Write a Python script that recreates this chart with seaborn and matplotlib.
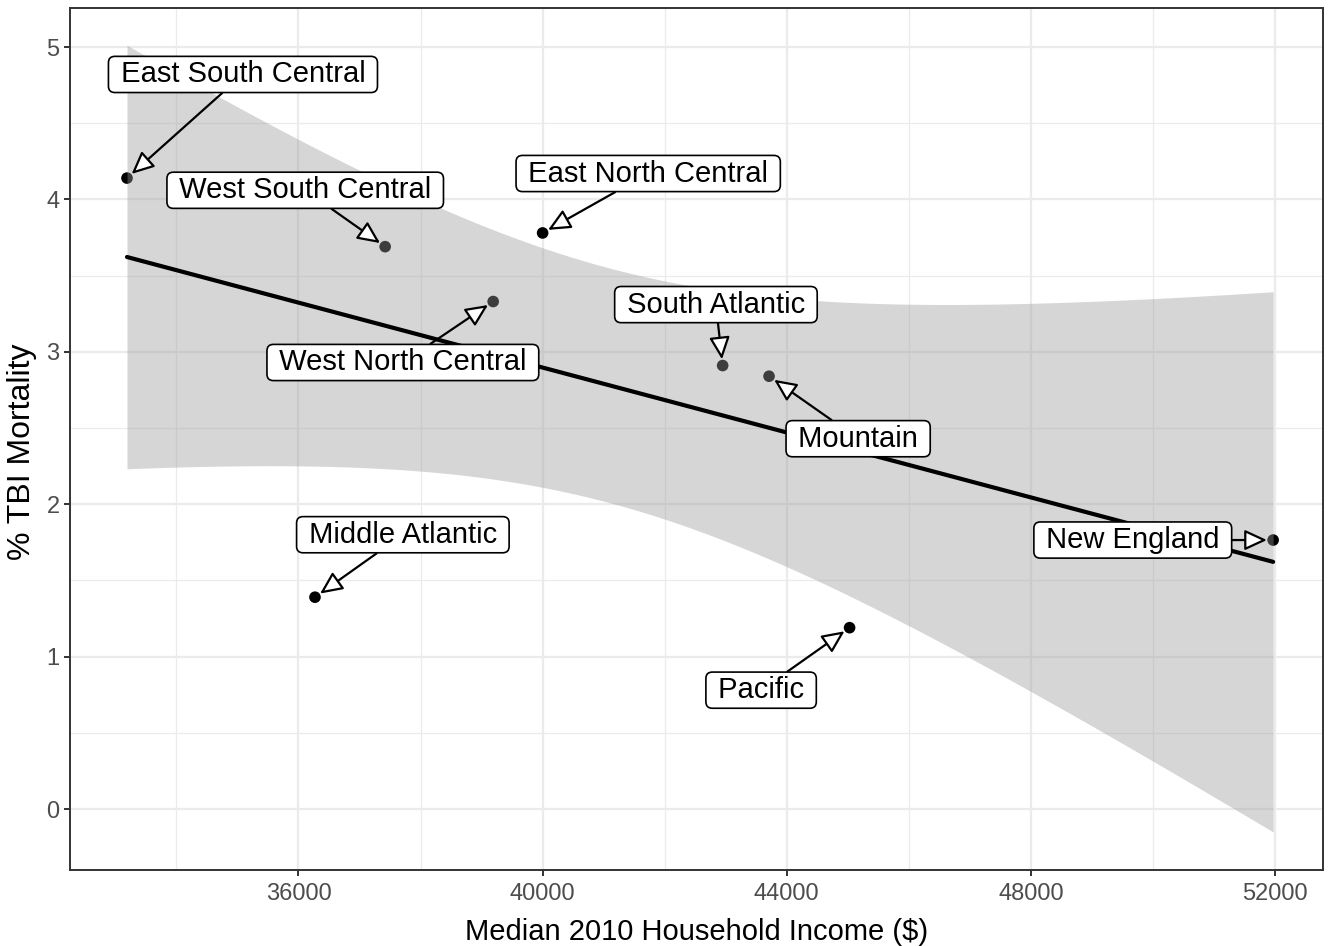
import numpy as np
import pandas as pd
import matplotlib
matplotlib.use("Agg")
import matplotlib.pyplot as plt
import seaborn as sns

regions = ["East South Central", "West South Central", "East North Central",
           "West North Central", "South Atlantic", "Mountain", "New England",
           "Middle Atlantic", "Pacific"]
income = [33190, 37420, 40000, 39190, 42950, 43710, 51970, 36270, 45030]
mortality = [4.14, 3.69, 3.78, 3.33, 2.91, 2.84, 1.765, 1.39, 1.19]
label_x = [35090, 36110, 41730, 37710, 42840, 45170, 49670, 37710, 43580]
label_y = [4.82, 4.06, 4.17, 2.93, 3.31, 2.43, 1.765, 1.80, 0.78]
x_ticks = [36000, 40000, 44000, 48000, 52000]
y_ticks = [0, 1, 2, 3, 4, 5]

df = pd.DataFrame({"region": regions, "income": income, "mortality": mortality})

sns.set_theme(style="white")
plt.rcParams["font.family"] = ["Liberation Sans", "DejaVu Sans"]

fig = plt.figure(figsize=(13.39, 9.46), dpi=100)
ax = fig.add_axes([70/1339, 1-870/946, (1323-70)/1339, (870-8)/946])

# points
sns.scatterplot(data=df, x="income", y="mortality", color="black", s=70,
                edgecolor="none", ax=ax, zorder=2)

# analytic 95% confidence band (like ggplot geom_smooth(method="lm"))
x = np.array(income, float); y = np.array(mortality, float)
n = len(x)
b1, b0 = np.polyfit(x, y, 1)
resid = y - (b0 + b1 * x)
s = np.sqrt(np.sum(resid**2) / (n - 2))
xg = np.linspace(x.min(), x.max(), 200)
se = s * np.sqrt(1/n + (xg - x.mean())**2 / np.sum((x - x.mean())**2))
tcrit = 2.364624  # t(0.975, df=7)
yfit = b0 + b1 * xg
ax.fill_between(xg, yfit - tcrit*se, yfit + tcrit*se, color="#999999",
                alpha=0.4, linewidth=0, zorder=3)

sns.regplot(data=df, x="income", y="mortality", ci=None, scatter=False,
            color="black", line_kws={"linewidth": 3.0, "zorder": 4}, ax=ax)

for name, px, py, lx, ly in zip(regions, income, mortality, label_x, label_y):
    ax.annotate(" " + name + " ", xy=(px, py), xytext=(lx, ly),
                ha="center", va="center",
                fontsize=21, color="black", zorder=6,
                bbox=dict(boxstyle="round,pad=0.14,rounding_size=0.22",
                          fc="white", ec="black", lw=1.2),
                arrowprops=dict(arrowstyle="-|>,head_length=0.65,head_width=0.3",
                                fc="white", ec="black", lw=1.6,
                                shrinkA=0, shrinkB=4.5))

ax.set_xlim(32256, 52787)
ax.set_ylim(-0.40, 5.256)
ax.set_xticks(x_ticks)
ax.set_xticklabels([str(t) for t in x_ticks])
ax.set_yticks(y_ticks)
ax.set_yticklabels([str(t) for t in y_ticks])
ax.set_xticks([34000, 38000, 42000, 46000, 50000], minor=True)
ax.set_yticks([0.5, 1.5, 2.5, 3.5, 4.5], minor=True)
ax.set_axisbelow(True)
ax.grid(which="major", color="#EBEBEB", linewidth=1.6)
ax.grid(which="minor", color="#EBEBEB", linewidth=0.9)
ax.tick_params(which="major", length=4.5, width=1.4, color="#333333",
               labelsize=17, labelcolor="#4D4D4D", bottom=True, left=True)
ax.tick_params(axis="x", which="major", pad=5)
ax.tick_params(axis="y", which="major", pad=3)
ax.tick_params(which="minor", length=0)
for sp in ax.spines.values():
    sp.set_color("#333333")
    sp.set_linewidth(1.4)
ax.set_xlabel("Median 2010 Household Income ($)", fontsize=21, color="black", labelpad=9)
ax.set_ylabel("% TBI Mortality", fontsize=23, color="black")
ax.yaxis.set_label_coords(-0.026, 0.485)

fig.savefig("out.png", dpi=100)
